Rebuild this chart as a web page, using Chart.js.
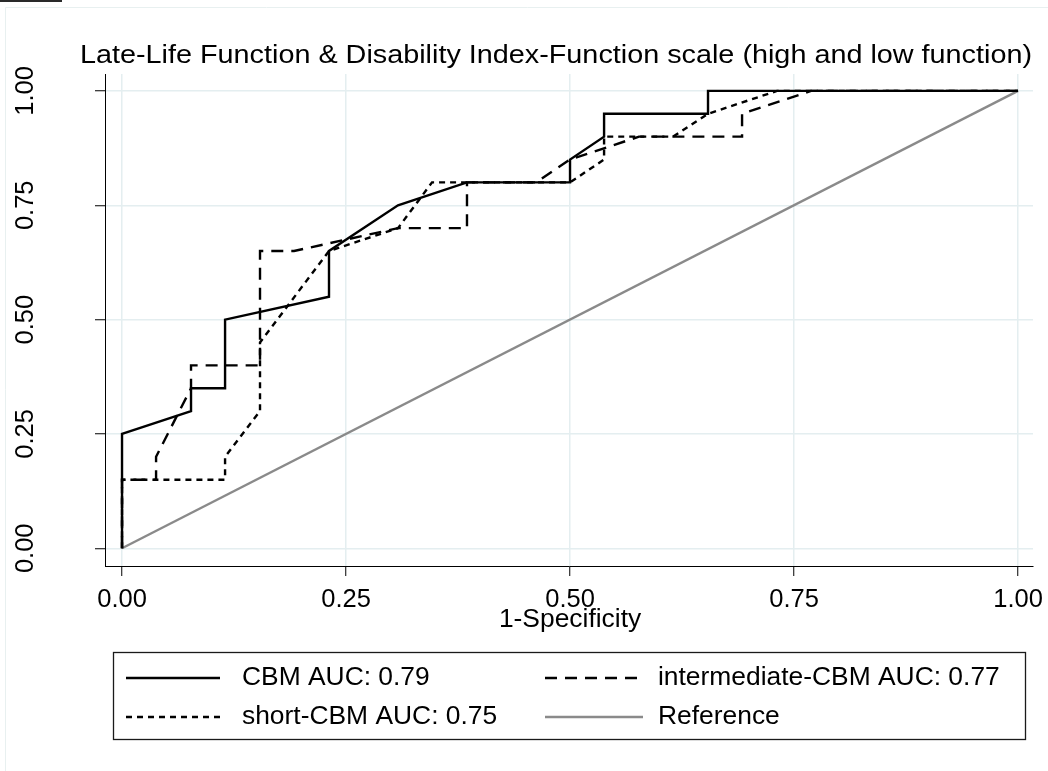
<!DOCTYPE html>
<html>
<head>
<meta charset="utf-8">
<script src="https://cdn.jsdelivr.net/npm/chart.js@4/dist/chart.umd.min.js"></script>
<style>
  html, body { margin: 0; padding: 0; background: #ffffff; }
  #wrap { width: 1048px; height: 771px; position: relative; }
</style>
</head>
<body>
<div id="wrap"><canvas id="c" width="1048" height="771"></canvas></div>
<script>
// ---- Data ----
const titleText = 'Late-Life Function & Disability Index-Function scale (high and low function)';
const xAxisTitle = '1-Specificity';
const tickValues = [0, 0.25, 0.5, 0.75, 1];
const tickLabels = ['0.00', '0.25', '0.50', '0.75', '1.00'];

const seriesNames = ['CBM AUC: 0.79', 'intermediate-CBM AUC: 0.77', 'short-CBM AUC: 0.75', 'Reference'];

const cbmX = [0, 0, 0.077, 0.077, 0.115, 0.115, 0.231, 0.231, 0.308, 0.385, 0.5, 0.5, 0.538, 0.538, 0.654, 0.654, 1];
const cbmY = [0, 0.25, 0.30, 0.35, 0.35, 0.50, 0.55, 0.65, 0.75, 0.80, 0.80, 0.85, 0.90, 0.95, 0.95, 1.00, 1.00];

const interX = [0, 0, 0.038, 0.038, 0.077, 0.077, 0.154, 0.154, 0.192, 0.308, 0.385, 0.385, 0.462, 0.5, 0.577, 0.692, 0.692, 0.769, 1];
const interY = [0, 0.15, 0.15, 0.20, 0.35, 0.40, 0.40, 0.65, 0.65, 0.70, 0.70, 0.80, 0.80, 0.85, 0.90, 0.90, 0.95, 1.00, 1.00];

const shortX = [0, 0, 0.115, 0.115, 0.154, 0.154, 0.231, 0.308, 0.346, 0.5, 0.538, 0.538, 0.615, 0.654, 0.731, 1];
const shortY = [0, 0.15, 0.15, 0.20, 0.30, 0.45, 0.65, 0.70, 0.80, 0.80, 0.85, 0.90, 0.90, 0.95, 1.00, 1.00];

const refX = [0, 1];
const refY = [0, 1];

function pts(xs, ys) { return xs.map((x, i) => ({ x: x, y: ys[i] })); }

const FONT = "'Liberation Sans', Arial, Helvetica, sans-serif";
const GRID = '#e4eef0';

const styles = [
  { color: '#000000', width: 2.4, dash: [] },
  { color: '#000000', width: 2.4, dash: [12, 8] },
  { color: '#000000', width: 2.4, dash: [6, 5] },
  { color: '#8a8a8a', width: 2.4, dash: [] }
];

const datasets = [
  { label: seriesNames[3], data: pts(refX, refY), s: styles[3], order: 4 },
  { label: seriesNames[2], data: pts(shortX, shortY), s: styles[2], order: 3 },
  { label: seriesNames[1], data: pts(interX, interY), s: styles[1], order: 2 },
  { label: seriesNames[0], data: pts(cbmX, cbmY), s: styles[0], order: 1 }
].map(d => ({
  label: d.label,
  data: d.data,
  showLine: true,
  borderColor: d.s.color,
  borderWidth: d.s.width,
  borderDash: d.s.dash,
  pointRadius: 0,
  pointHoverRadius: 0,
  tension: 0,
  fill: false,
  order: d.order
}));

function fitText(ctx, text, cx, y, targetW) {
  const w = ctx.measureText(text).width;
  const s = targetW / w;
  ctx.save();
  ctx.translate(cx, y);
  ctx.scale(s, 1);
  ctx.textAlign = 'center';
  ctx.fillText(text, 0, 0);
  ctx.restore();
}

const decor = {
  id: 'decor',
  beforeDraw(chart) {
    const ctx = chart.ctx;
    ctx.save();
    ctx.fillStyle = '#ffffff';
    ctx.fillRect(0, 0, chart.width, chart.height);
    ctx.strokeStyle = '#e8f0f0';
    ctx.lineWidth = 1;
    ctx.beginPath();
    ctx.moveTo(5.5, 800); ctx.lineTo(5.5, 7.5); ctx.lineTo(1100, 7.5);
    ctx.stroke();
    ctx.fillStyle = '#2a2a2a';
    ctx.fillRect(0, 0, 62, 2);
    ctx.restore();
  },
  afterDraw(chart) {
    const ctx = chart.ctx;
    const xs = chart.scales.x, ys = chart.scales.y;
    ctx.save();
    ctx.fillStyle = '#000000';
    ctx.textBaseline = 'alphabetic';
    // title
    ctx.font = '26px ' + FONT;
    fitText(ctx, titleText, 556, 63, 952);
    // y tick labels (rotated)
    tickValues.forEach((v, i) => {
      const py = ys.getPixelForValue(v);
      ctx.save();
      ctx.translate(33, py);
      ctx.rotate(-Math.PI / 2);
      ctx.textAlign = 'center';
      ctx.textBaseline = 'alphabetic';
      ctx.font = '25.5px ' + FONT;
      ctx.fillText(tickLabels[i], 0, 0);
      ctx.restore();
    });
    // x tick labels
    ctx.font = '25.5px ' + FONT;
    ctx.textAlign = 'center';
    tickValues.forEach((v, i) => {
      ctx.fillText(tickLabels[i], xs.getPixelForValue(v), 607);
    });
    // x axis title
    ctx.font = '26.4px ' + FONT;
    ctx.fillText(xAxisTitle, xs.getPixelForValue(0.5), 627);

    // legend
    const L = 113.5, T = 652.5, R = 1025.5, B = 739.5;
    ctx.strokeStyle = '#1a1a1a';
    ctx.lineWidth = 1.3;
    ctx.strokeRect(L, T, R - L, B - T);
    const items = [
      { name: seriesNames[0], s: styles[0], x0: 126, x1: 220, tx: 242, y: 678 },
      { name: seriesNames[1], s: styles[1], x0: 545, x1: 643, tx: 658, y: 678 },
      { name: seriesNames[2], s: styles[2], x0: 126, x1: 220, tx: 242, y: 717 },
      { name: seriesNames[3], s: styles[3], x0: 545, x1: 643, tx: 658, y: 717 }
    ];
    items.forEach(it => {
      ctx.save();
      ctx.strokeStyle = it.s.color;
      ctx.lineWidth = it.s.width;
      ctx.setLineDash(it.s.dash);
      ctx.beginPath();
      ctx.moveTo(it.x0, it.y);
      ctx.lineTo(it.x1, it.y);
      ctx.stroke();
      ctx.restore();
      ctx.font = '26.4px ' + FONT;
      ctx.textAlign = 'left';
      ctx.textBaseline = 'middle';
      ctx.fillStyle = '#000000';
      ctx.fillText(it.name, it.tx, it.y);
    });
    ctx.restore();
  }
};

new Chart(document.getElementById('c'), {
  type: 'scatter',
  data: { datasets: datasets },
  options: {
    responsive: false,
    animation: false,
    devicePixelRatio: 1,
    layout: { padding: { left: 0, top: 74, right: 15, bottom: 0 } },
    plugins: { legend: { display: false }, title: { display: false }, tooltip: { enabled: false } },
    scales: {
      x: {
        type: 'linear',
        min: -0.019,
        max: 1.0167,
        afterBuildTicks(scale) { scale.ticks = tickValues.map(v => ({ value: v })); },
        afterFit(scale) { scale.height = 205; },
        ticks: { display: false },
        grid: { color: GRID, lineWidth: 1.5, drawTicks: true, tickLength: 10, tickColor: '#000000', tickWidth: 1 },
        border: { display: true, color: '#000000', width: 1 }
      },
      y: {
        type: 'linear',
        min: -0.0387,
        max: 1.037,
        afterBuildTicks(scale) { scale.ticks = tickValues.map(v => ({ value: v })); },
        afterFit(scale) { scale.width = 105; },
        ticks: { display: false },
        grid: { color: GRID, lineWidth: 1.5, drawTicks: true, tickLength: 10, tickColor: '#000000', tickWidth: 1 },
        border: { display: true, color: '#000000', width: 1 }
      }
    }
  },
  plugins: [decor]
});
</script>
</body>
</html>
